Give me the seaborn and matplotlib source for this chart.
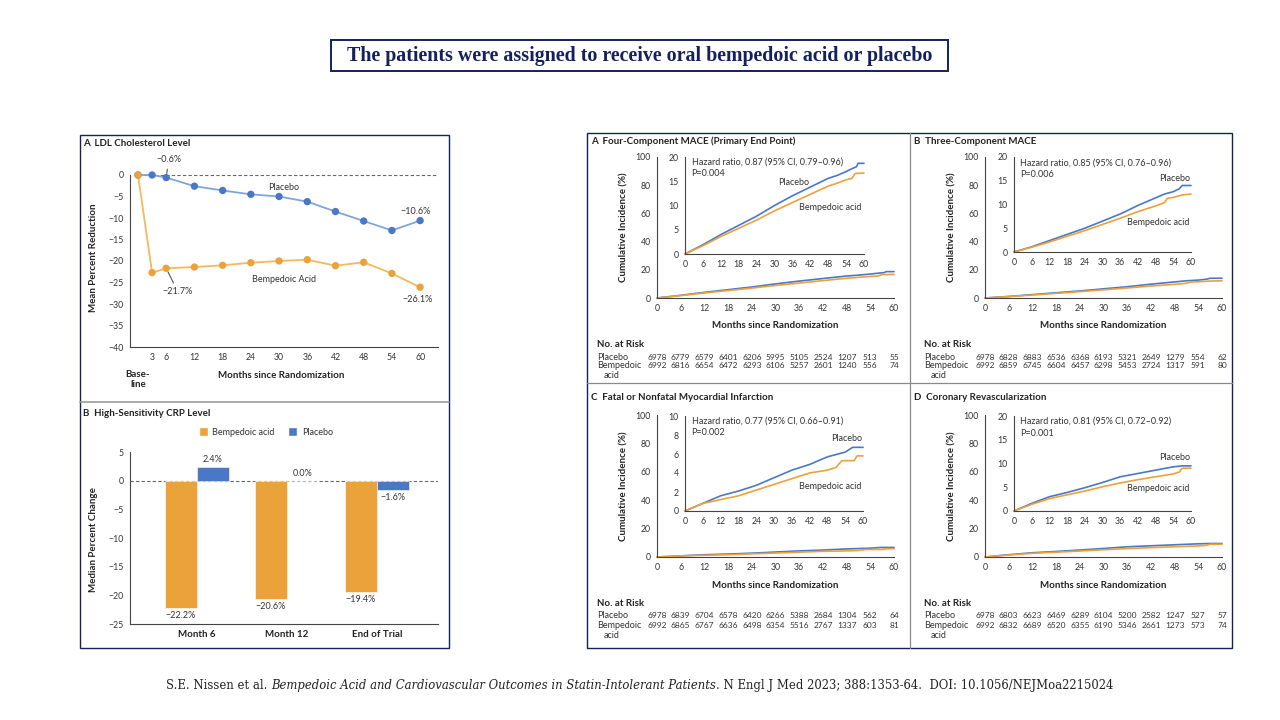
import numpy as np
import pandas as pd
import matplotlib
matplotlib.use('Agg')
import matplotlib.pyplot as plt
import seaborn as sns
from matplotlib.patches import Rectangle, Patch
from matplotlib.lines import Line2D
import matplotlib.transforms as mtransforms

sns.set_style('white')
SANS = ['Lato', 'DejaVu Sans']
plt.rcParams['font.family'] = SANS
plt.rcParams['axes.unicode_minus'] = True

# ---------------- data ----------------
TITLE = "The patients were assigned to receive oral bempedoic acid or placebo"

ldl_months = [0, 3, 6, 12, 18, 24, 30, 36, 42, 48, 54, 60]
ldl_placebo = [0, 0, -0.6, -2.6, -3.6, -4.5, -5.0, -6.2, -8.5, -10.7, -12.9, -10.6]
ldl_bempedoic = [0, -22.7, -21.7, -21.4, -21.0, -20.4, -20.0, -19.7, -21.1, -20.3, -22.9, -26.1]
ldl_xticks = [3, 6, 12, 18, 24, 30, 36, 42, 48, 54, 60]

crp_timepoints = ["Month 6", "Month 12", "End of Trial"]
crp_bempedoic = [-22.2, -20.6, -19.4]
crp_placebo = [2.4, 0.0, -1.6]

km_months_ticks = list(range(0, 61, 6))

# Panel A  four-component MACE
a_pla_t = [0, 6, 12, 18, 24, 30, 36, 42, 48, 51, 54, 56, 57.5, 58, 60]
a_pla_v = [0, 1.9, 4.0, 5.9, 7.8, 10.0, 12.0, 13.8, 15.6, 16.2, 17.0, 17.6, 18.0, 18.7, 18.7]
a_bem_t = [0, 6, 12, 18, 24, 30, 36, 42, 48, 51, 54, 56, 57, 60]
a_bem_v = [0, 1.7, 3.6, 5.3, 7.0, 8.9, 10.6, 12.3, 14.0, 14.6, 15.3, 15.6, 16.6, 16.7]
a_risk_pla = [6978, 6779, 6579, 6401, 6206, 5995, 5105, 2524, 1207, 513, 55]
a_risk_bem = [6992, 6816, 6654, 6472, 6293, 6106, 5257, 2601, 1240, 556, 74]

# Panel B  three-component MACE
b_pla_t = [0, 6, 12, 18, 24, 30, 36, 42, 48, 51, 54, 56, 57, 60]
b_pla_v = [0, 1.1, 2.4, 3.7, 5.0, 6.5, 8.0, 9.8, 11.4, 12.2, 12.7, 13.3, 14.0, 14.0]
b_bem_t = [0, 6, 12, 18, 24, 30, 36, 42, 48, 51, 52, 54, 57, 60]
b_bem_v = [0, 1.0, 2.1, 3.3, 4.5, 5.8, 7.1, 8.5, 9.7, 10.4, 11.3, 11.5, 12.0, 12.2]
b_risk_pla = [6978, 6828, 6883, 6536, 6368, 6193, 5321, 2649, 1279, 554, 62]
b_risk_bem = [6992, 6859, 6745, 6604, 6457, 6298, 5453, 2724, 1317, 591, 80]

# Panel C  fatal or nonfatal MI
c_pla_t = [0, 6, 12, 18, 24, 30, 36, 42, 48, 54, 56.5, 60]
c_pla_v = [0, 0.8, 1.6, 2.1, 2.7, 3.5, 4.3, 4.9, 5.7, 6.2, 6.7, 6.7]
c_bem_t = [0, 6, 12, 18, 24, 30, 36, 42, 48, 51, 52, 53, 57, 58, 60]
c_bem_v = [0, 0.8, 1.2, 1.6, 2.2, 2.8, 3.4, 4.0, 4.3, 4.6, 5.0, 5.3, 5.3, 5.8, 5.8]
c_risk_pla = [6978, 6839, 6704, 6578, 6420, 6266, 5388, 2684, 1304, 562, 64]
c_risk_bem = [6992, 6865, 6767, 6636, 6498, 6354, 5516, 2767, 1337, 603, 81]

# Panel D  coronary revascularization
d_pla_t = [0, 6, 12, 18, 24, 30, 36, 42, 48, 54, 57, 60]
d_pla_v = [0, 1.6, 3.0, 3.9, 4.9, 6.0, 7.2, 7.9, 8.6, 9.3, 9.5, 9.5]
d_bem_t = [0, 6, 12, 18, 24, 30, 36, 42, 48, 54, 56, 57, 60]
d_bem_v = [0, 1.4, 2.6, 3.4, 4.2, 5.1, 5.9, 6.6, 7.2, 7.8, 8.2, 9.0, 9.0]
d_risk_pla = [6978, 6803, 6623, 6469, 6289, 6104, 5200, 2582, 1247, 527, 57]
d_risk_bem = [6992, 6832, 6689, 6520, 6355, 6190, 5346, 2661, 1273, 573, 74]

# ---------------- style ----------------
NAVY = '#14215a'
BLUE = '#4a78c6'
BLUE_L = '#7fa6dc'
ORANGE = '#eba23a'
ORANGE_L = '#f3b95e'
TXT = '#333333'
DARK = '#222222'
TICK = '#444444'
FS_T = 6.5     # ordinary text
FS_B = 7.0     # bold labels/titles
FS_K = 6.3     # tick labels
FS_R = 6.0     # risk table numbers
W, H = 1280, 720

fig = plt.figure(figsize=(12.8, 7.2), dpi=100)
fig.patch.set_facecolor('white')


def rect(x0, y0, x1, y1):
    return [x0 / W, 1 - y1 / H, (x1 - x0) / W, (y1 - y0) / H]


def fx(x):
    return x / W


def fy(y):
    return 1 - y / H


def style_axes(ax, size=FS_K):
    for s in ['top', 'right']:
        ax.spines[s].set_visible(False)
    for s in ['left', 'bottom']:
        ax.spines[s].set_color(TICK)
        ax.spines[s].set_linewidth(0.8)
    ax.tick_params(axis='both', which='major', direction='out', length=3, width=0.7,
                   colors=TICK, labelsize=size, pad=1.5, labelcolor=TXT)
    ax.set_facecolor('none')
    ax.grid(False)


def frame(x0, y0, x1, y1, color=NAVY, lw=1.0):
    fig.patches.append(Rectangle((fx(x0), fy(y1)), (x1 - x0) / W, (y1 - y0) / H,
                                 transform=fig.transFigure, fill=False,
                                 edgecolor=color, lw=lw))


def hline(x0, x1, y, color='#8a8a8a', lw=0.9):
    fig.add_artist(Line2D([fx(x0), fx(x1)], [fy(y), fy(y)], transform=fig.transFigure,
                          color=color, lw=lw))


def vline(x, y0, y1, color='#8a8a8a', lw=0.9):
    fig.add_artist(Line2D([fx(x), fx(x)], [fy(y0), fy(y1)], transform=fig.transFigure,
                          color=color, lw=lw))


# ---------------- title box ----------------
frame(331, 40, 948, 71, color=NAVY, lw=1.4)
fig.text(fx(640), fy(56), TITLE, ha='center', va='center', family=['Liberation Serif', 'DejaVu Serif'],
         weight='bold', size=14.4, color=NAVY)

# ---------------- left panel frame ----------------
frame(80, 135, 449, 648, color=NAVY, lw=1.0)
hline(80, 449, 402, color='#9a9a9a', lw=1.2)

# ---------------- LDL panel ----------------
fig.text(fx(83), fy(143), "A  LDL Cholesterol Level", ha='left', va='center', size=FS_B,
         weight='bold', color=DARK)
ax = fig.add_axes(rect(130, 175, 438, 347))
style_axes(ax)
ldl_df = pd.DataFrame({
    'month': ldl_months * 2,
    'pct': ldl_placebo + ldl_bempedoic,
    'group': ['Placebo'] * len(ldl_months) + ['Bempedoic Acid'] * len(ldl_months),
})
ax.hlines(0, 0, 63.8, colors='#666666', linestyles=(0, (3, 2)), lw=0.8, zorder=1)
sns.lineplot(data=ldl_df, x='month', y='pct', hue='group',
             palette={'Placebo': BLUE_L, 'Bempedoic Acid': ORANGE_L},
             lw=1.3, ax=ax, legend=False, clip_on=False, zorder=2)
sns.scatterplot(data=ldl_df, x='month', y='pct', hue='group',
                palette={'Placebo': BLUE, 'Bempedoic Acid': ORANGE},
                s=28, linewidth=0, ax=ax, legend=False, clip_on=False, zorder=3)
ax.set_xlim(-1.7, 63.8)
ax.set_ylim(-40, 0)
ax.set_yticks(range(-40, 1, 5))
ax.set_xticks(ldl_xticks)
ax.set_xticks([0], minor=True)
ax.set_xticklabels(['Base-\nline'], minor=True, fontsize=FS_B, fontweight='bold', color=DARK)
ax.tick_params(axis='x', which='minor', length=15.5, width=0.7, colors=TICK, pad=1,
               labelcolor=DARK)
ax.set_xlabel('')
ax.set_ylabel('')
fig.text(fx(281), fy(375), "Months since Randomization", ha='center', va='center', size=FS_B,
         weight='bold', color=DARK)
fig.text(fx(93), fy(258), "Mean Percent Reduction", ha='center', va='center', rotation=90,
         size=FS_B, weight='bold', color=DARK)
ann = dict(arrowstyle='-', color='#555555', lw=0.8, shrinkA=1, shrinkB=3)
ax.annotate("\u22120.6%", xy=(6, ldl_placebo[2]), xytext=(6.5, 3.5), ha='center', va='center',
            size=FS_T, color=TXT, arrowprops=ann, annotation_clip=False)
ax.annotate("\u221221.7%", xy=(6, ldl_bempedoic[2]), xytext=(8.5, -27.2), ha='center', va='center',
            size=FS_T, color=TXT, arrowprops=ann, annotation_clip=False)
ax.text(59.1, -8.4, "\u221210.6%", ha='center', va='center', size=FS_T, color=TXT)
ax.text(59.4, -28.9, "\u221226.1%", ha='center', va='center', size=FS_T, color=TXT)
ax.text(31, -2.8, "Placebo", ha='center', va='center', size=FS_T, color=TXT)
ax.text(31, -24.4, "Bempedoic Acid", ha='center', va='center', size=FS_T, color=TXT)

# ---------------- CRP panel ----------------
fig.text(fx(83), fy(414), "B  High-Sensitivity CRP Level", ha='left', va='center', size=FS_B,
         weight='bold', color=DARK)
ax2 = fig.add_axes(rect(130, 452, 438, 624))
style_axes(ax2)
crp_df = pd.DataFrame({
    'timepoint': crp_timepoints * 2,
    'change': crp_bempedoic + crp_placebo,
    'group': ['Bempedoic acid'] * 3 + ['Placebo'] * 3,
})
ax2.axhline(0, color='#666666', ls=(0, (3, 2)), lw=0.8, zorder=0)
sns.barplot(data=crp_df, x='timepoint', y='change', hue='group',
            hue_order=['Bempedoic acid', 'Placebo'], palette=[ORANGE, BLUE],
            width=0.71, saturation=1, ax=ax2, legend=False, zorder=2,
            edgecolor='white', linewidth=0.4)
for cont, vals in zip(ax2.containers, [crp_bempedoic, crp_placebo]):
    labels = [f"{v:.1f}%".replace('-', '\u2212') for v in vals]
    ax2.bar_label(cont, labels=labels, padding=2, fontsize=FS_T, color=TXT)
ax2.set_xlim(-0.74, 2.68)
ax2.set_ylim(-25, 5)
ax2.set_yticks(range(-25, 6, 5))
ax2.tick_params(axis='x', length=0, pad=4)
for lab in ax2.get_xticklabels():
    lab.set_fontweight('bold')
    lab.set_fontsize(FS_B)
    lab.set_color(DARK)
ax2.set_xlabel('')
ax2.set_ylabel('')
fig.text(fx(93), fy(540), "Median Percent Change", ha='center', va='center', rotation=90,
         size=FS_B, weight='bold', color=DARK)
fig.legend(handles=[Patch(facecolor=ORANGE), Patch(facecolor=BLUE)],
           labels=['Bempedoic acid', 'Placebo'], loc='center',
           bbox_to_anchor=(fx(266), fy(432)), ncol=2, frameon=False, fontsize=FS_T,
           handlelength=1.0, handleheight=1.0, handletextpad=0.5, columnspacing=1.5,
           labelcolor=TXT)

# ---------------- right panel frame ----------------
frame(587, 133, 1232, 648, color=NAVY, lw=1.0)
vline(910, 133, 648)
hline(587, 1232, 383)


def km_panel(main_px, inset_px, inset_ymax, inset_step, pla_t, pla_v, bem_t, bem_v,
             title, title_xy, hr, pval, hr_y, p_y, plac_xy, bemp_xy,
             risk_pla, risk_bem, label_x):
    fig.text(fx(title_xy[0]), fy(title_xy[1]), title, ha='left', va='center', size=FS_B,
             weight='bold', color=DARK)
    df_p = pd.DataFrame({'t': pla_t, 'v': pla_v})
    df_b = pd.DataFrame({'t': bem_t, 'v': bem_v})
    # main axes
    axm = fig.add_axes(rect(*main_px))
    style_axes(axm)
    sns.lineplot(data=df_p, x='t', y='v', color=BLUE, lw=1.2, ax=axm, clip_on=False)
    sns.lineplot(data=df_b, x='t', y='v', color=ORANGE, lw=1.2, ax=axm, clip_on=False)
    axm.set_xlim(0, 60)
    axm.set_ylim(0, 100)
    axm.set_xticks(km_months_ticks)
    axm.set_yticks(range(0, 101, 20))
    axm.set_xlabel('')
    axm.set_ylabel('')
    x0, y0, x1, y1 = main_px
    fig.text(fx((x0 + x1) / 2), fy(y1 + 28), "Months since Randomization", ha='center',
             va='center', size=FS_B, weight='bold', color=DARK)
    fig.text(fx(x0 - 33), fy((y0 + y1) / 2), "Cumulative Incidence (%)", ha='center',
             va='center', rotation=90, size=FS_B, weight='bold', color=DARK)
    # inset
    axi = fig.add_axes(rect(*inset_px))
    style_axes(axi)
    sns.lineplot(data=df_p, x='t', y='v', color=BLUE, lw=1.2, ax=axi, clip_on=False)
    sns.lineplot(data=df_b, x='t', y='v', color=ORANGE, lw=1.2, ax=axi, clip_on=False)
    axi.set_xlim(0, 60)
    axi.set_ylim(0, inset_ymax)
    axi.set_xticks(km_months_ticks)
    yt = np.arange(0, inset_ymax + 0.01, inset_step)
    axi.set_yticks(yt)
    axi.set_yticklabels([f"{int(v)}" for v in yt])
    axi.set_xlabel('')
    axi.set_ylabel('')
    axi.text(2.2, hr_y, hr, ha='left', va='center', size=FS_T, color=TXT)
    axi.text(2.2, p_y, pval, ha='left', va='center', size=FS_T, color=TXT)
    axi.text(plac_xy[0], plac_xy[1], "Placebo", ha='center', va='center', size=FS_T, color=TXT)
    axi.text(bemp_xy[0], bemp_xy[1], "Bempedoic acid", ha='center', va='center', size=FS_T,
             color=TXT)
    # risk table
    trans = mtransforms.blended_transform_factory(axm.transData, fig.transFigure)
    fig.text(fx(label_x), fy(y1 + 46), "No. at Risk", ha='left', va='center', size=FS_B,
             weight='bold', color=DARK)
    fig.text(fx(label_x), fy(y1 + 59), "Placebo", ha='left', va='center', size=FS_T, color=TXT)
    fig.text(fx(label_x), fy(y1 + 68), "Bempedoic", ha='left', va='center', size=FS_T, color=TXT)
    fig.text(fx(label_x + 7), fy(y1 + 78), "acid", ha='left', va='center', size=FS_T, color=TXT)
    for t, n1, n2 in zip(km_months_ticks, risk_pla, risk_bem):
        axm.text(t, fy(y1 + 59), str(n1), transform=trans, ha='center', va='center',
                 size=FS_R, color=TXT)
        axm.text(t, fy(y1 + 68), str(n2), transform=trans, ha='center', va='center',
                 size=FS_R, color=TXT)


km_panel((657, 157, 894, 298), (685, 157, 864, 254), 20, 5, a_pla_t, a_pla_v, a_bem_t, a_bem_v,
         "A  Four-Component MACE (Primary End Point)", (591, 141),
         "Hazard ratio, 0.87 (95% CI, 0.79\u20130.96)", "P=0.004", 18.9, 16.6,
         (36.5, 14.8), (48.8, 9.5), a_risk_pla, a_risk_bem, 597)
km_panel((985, 157, 1222, 298), (1014, 157, 1191, 252), 20, 5, b_pla_t, b_pla_v, b_bem_t, b_bem_v,
         "B  Three-Component MACE", (914, 141),
         "Hazard ratio, 0.85 (95% CI, 0.76\u20130.96)", "P=0.006", 18.8, 16.3,
         (54.6, 15.5), (49.0, 6.2), b_risk_pla, b_risk_bem, 924)
km_panel((657, 415, 894, 557), (685, 416, 863, 511), 10, 2, c_pla_t, c_pla_v, c_bem_t, c_bem_v,
         "C  Fatal or Nonfatal Myocardial Infarction", (591, 397),
         "Hazard ratio, 0.77 (95% CI, 0.66\u20130.91)", "P=0.002", 9.5, 8.3,
         (54.6, 7.6), (48.8, 2.6), c_risk_pla, c_risk_bem, 597)
km_panel((985, 415, 1222, 557), (1014, 416, 1191, 511), 20, 5, d_pla_t, d_pla_v, d_bem_t, d_bem_v,
         "D  Coronary Revascularization", (914, 397),
         "Hazard ratio, 0.81 (95% CI, 0.72\u20130.92)", "P=0.001", 18.9, 16.4,
         (54.6, 11.2), (49.0, 4.8), d_risk_pla, d_risk_bem, 924)

# ---------------- footer ----------------
axf = fig.add_axes([0, 0, 1, 1])
axf.axis('off')
SERIF = ['DejaVu Serif']
FS_F = 8.4
t1 = axf.text(fx(166), fy(692), "S.E. Nissen et al.", ha='left', va='bottom', size=FS_F,
              family=SERIF, color=DARK)
t2 = axf.annotate("Bempedoic Acid and Cardiovascular Outcomes in Statin-Intolerant Patients",
                  xy=(1, 0), xycoords=t1, xytext=(3, 0), textcoords='offset points',
                  ha='left', va='bottom', size=FS_F, family=SERIF, style='italic', color=DARK)
t3 = axf.annotate(". N Engl J Med 2023; 388:1353-64.  DOI: 10.1056/NEJMoa2215024",
                  xy=(1, 0), xycoords=t2, ha='left', va='bottom', size=FS_F, family=SERIF,
                  color=DARK)

fig.savefig('out.png', dpi=100)
